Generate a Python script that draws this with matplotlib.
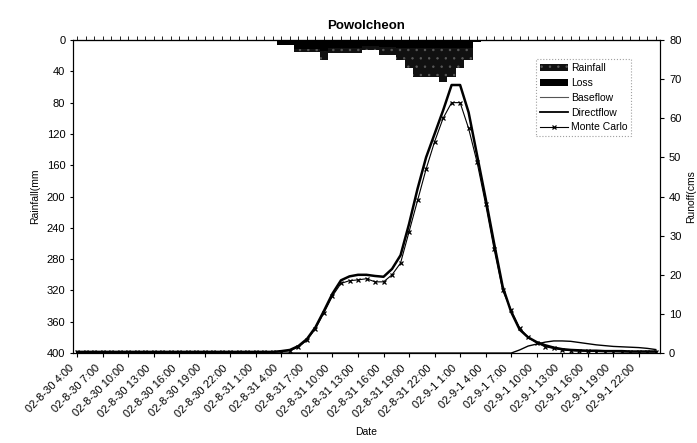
import matplotlib
matplotlib.use("Agg")
import matplotlib.pyplot as plt
import matplotlib.transforms as mtransforms
import pandas as pd
from matplotlib.lines import Line2D
from matplotlib.patches import Patch

plt.rcParams['font.family'] = ['Liberation Sans', 'DejaVu Sans']
plt.rcParams['hatch.linewidth'] = 0.5

# hourly time steps, 02-8-30 4:00 onwards
start_time = '2002-08-30 04:00'
n_steps = 69

# rainfall and loss (mm), hours 24..47
rain_start = 24
rainfall = [6, 6, 15, 15, 15, 26, 17, 17, 17, 17, 13, 13,
            19, 19, 26, 36, 47, 47, 47, 54, 47, 36, 26, 3]
loss = [6, 6, 12, 12, 12, 14, 10, 10, 10, 10, 8, 8,
        9, 9, 10, 10, 10, 10, 10, 10, 10, 10, 10, 3]

# runoff (cms)
directflow = [0.3] * 24 + [
    0.5, 0.8, 1.8, 3.6, 6.6, 10.8, 15.2, 18.6, 19.6, 20.0, 20.0, 19.7,
    19.5, 21.5, 25.0, 33.0, 42.0, 50.0, 56.0, 62.0, 68.5, 68.5, 61.5, 50.5,
    39.5, 28.0, 17.0, 10.5, 6.0, 4.0, 2.8, 2.0, 1.4, 1.0, 0.8, 0.7,
    0.6, 0.6, 0.5, 0.5, 0.5, 0.4, 0.4, 0.4, 0.4]
monte_carlo = [0.3] * 24 + [
    0.4, 0.6, 1.5, 3.3, 6.2, 10.3, 14.6, 17.8, 18.5, 18.7, 19.0, 18.2,
    18.2, 20.0, 23.0, 31.0, 39.0, 47.0, 54.0, 60.0, 64.0, 64.0, 57.4, 48.7,
    38.0, 26.5, 16.0, 11.0, 6.4, 4.0, 2.6, 1.6, 1.2, 0.8, 0.6, 0.5,
    0.5, 0.4, 0.4, 0.4, 0.3, 0.3, 0.3, 0.3, 0.3]
baseflow = [0.0] * 52 + [
    0.8, 1.8, 2.3, 2.8, 3.1, 3.1, 3.0, 2.7, 2.4, 2.1, 1.9, 1.7,
    1.6, 1.5, 1.4, 1.2, 0.9]

times = pd.date_range(start_time, periods=n_steps, freq='h')
labels = [f"02-{t.month}-{t.day} {t.hour}:00" for t in times]
x = list(range(n_steps))
rain_x = [rain_start + i for i in range(len(rainfall))]

fig = plt.figure(figsize=(6.97, 4.43), dpi=100)
ax = fig.add_axes([0.1047, 0.203, 0.8423, 0.7067])

# hyetograph hanging from the top
ax.bar(rain_x, rainfall, width=1.0, color='#111111', edgecolor='#5a5a5a',
       linewidth=0, hatch='..', zorder=2)
ax.bar(rain_x, loss, width=1.0, color='black', edgecolor='none', zorder=3)
ax.set_ylim(400, 0)
ax.set_yticks(range(0, 401, 40))
ax.set_xlim(-0.5, n_steps - 0.5)
ax.set_xticks(x[::3])
ax.set_xticklabels(labels[::3], rotation=45, ha='right', rotation_mode='anchor',
                   fontsize=8)
ax.tick_params(axis='x', length=3, pad=4)
ax.tick_params(axis='y', labelsize=8, length=2)
ax.set_ylabel('Rainfall(mm', fontsize=7.5, labelpad=5)
ax.set_xlabel('Date', fontsize=7.5, labelpad=6)

# nudge the slanted date labels left like the original
shift = mtransforms.ScaledTranslation(-6 / 72, 0, fig.dpi_scale_trans)
for lbl in ax.get_xticklabels():
    lbl.set_transform(lbl.get_transform() + shift)

# hourly ticks along the top edge
top = ax.secondary_xaxis('top')
top.set_xticks(x)
top.set_xticklabels([])
top.tick_params(length=3, width=0.6)

# runoff on the right axis
ax2 = ax.twinx()
ax2.plot(x, baseflow, color='black', lw=1.0, zorder=4)
ax2.plot(x, directflow, color='black', lw=1.8, zorder=5)
ax2.plot(x, monte_carlo, color='black', lw=0.8, marker='x', ms=3.5, mew=0.9,
         zorder=6)
ax2.set_ylim(0, 80)
ax2.set_yticks(range(0, 81, 10))
ax2.tick_params(axis='y', labelsize=8, length=3)
ax2.set_ylabel('Runoff(cms', fontsize=7.5, labelpad=3)

ax.set_title('Powolcheon', fontsize=9.5, fontweight='bold', pad=8)

handles = [
    Patch(facecolor='#111111', edgecolor='#5a5a5a', linewidth=0, hatch='..'),
    Patch(facecolor='black', edgecolor='none'),
    Line2D([], [], color='#555555', lw=0.8),
    Line2D([], [], color='black', lw=1.3),
    Line2D([], [], color='black', lw=0.8, marker='x', ms=3.5, mew=0.9),
]
leg = ax2.legend(handles, ['Rainfall', 'Loss', 'Baseflow', 'Directflow', 'Monte Carlo'],
                 loc='upper right', bbox_to_anchor=(0.96, 0.955), fontsize=7.5,
                 frameon=True, fancybox=False, handlelength=2.6, handletextpad=0.3,
                 labelspacing=0.45, borderpad=0.4)
leg.get_frame().set_edgecolor('#888888')
leg.get_frame().set_linestyle(':')
leg.get_frame().set_linewidth(0.8)

fig.savefig('out.png', dpi=100)
